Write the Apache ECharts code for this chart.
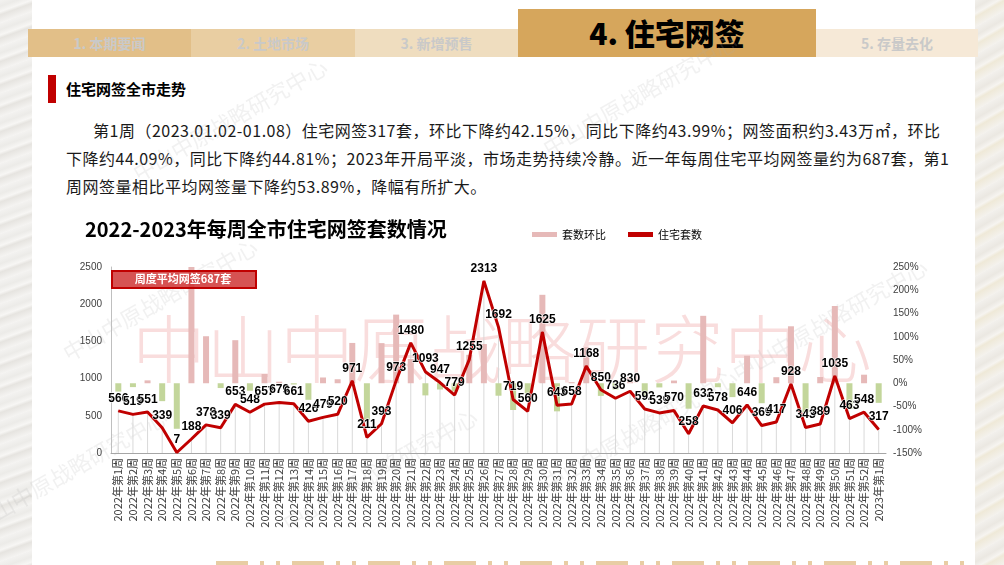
<!DOCTYPE html>
<html><head><meta charset="utf-8">
<script src="https://cdn.jsdelivr.net/npm/echarts@6/dist/echarts.min.js"></script>
<style>
html,body{margin:0;padding:0;width:1004px;height:565px;overflow:hidden;background:#fff;font-family:"Noto Sans CJK SC","Noto Sans",sans-serif;}
#page{position:relative;width:1004px;height:565px;}
.edgeL{position:absolute;left:0;top:0;width:32px;height:565px;background:repeating-linear-gradient(160deg,#f3f2f0 0px,#ecebe8 6px,#f7f6f4 11px,#e6e4e0 14px,#f5f4f2 22px);}
.edgeR{position:absolute;left:975px;top:0;width:29px;height:565px;background:repeating-linear-gradient(150deg,#f2f0ec 0px,#ebe8e2 7px,#f6f4f0 12px,#efe9d8 15px,#f4f2ee 24px);}
.tab{position:absolute;top:29px;height:28px;line-height:28px;text-align:center;font-weight:bold;font-size:14px;color:#c9c9c9;font-family:"Noto Sans CJK SC",serif;}
.active{position:absolute;left:518px;top:9px;width:298px;height:48px;line-height:46px;background:#D6A65C;text-align:center;font-weight:900;font-size:30px;color:#000;font-family:"Noto Sans CJK SC",serif;}
.redbar{position:absolute;left:48px;top:75px;width:8px;height:28px;background:#C00000;}
.sub{position:absolute;left:66px;top:78px;font-size:15px;font-weight:bold;color:#000;line-height:22px;}
.para{position:absolute;left:66px;top:116px;font-size:16px;line-height:28px;color:#1a1a1a;white-space:nowrap;letter-spacing:0.5px;}
.deco{position:absolute;top:561px;height:4px;background:#E8CDA4;}
#chart{position:absolute;left:0;top:0;width:1004px;height:565px;}
</style></head>
<body><div id="page">
<div class="edgeL"></div><div class="edgeR"></div>
<div class="tab" style="left:28px;width:163px;background:#E2BF88;">1. 本期要闻</div>
<div class="tab" style="left:191px;width:164px;background:#E9CEA2;">2. 土地市场</div>
<div class="tab" style="left:355px;width:163px;background:#EFDDBF;">3. 新增预售</div>
<div class="active">4. 住宅网签</div>
<div class="tab" style="left:816px;width:162px;background:#F6E9D7;">5. 存量去化</div>
<div class="redbar"></div>
<div class="sub">住宅网签全市走势</div>
<div class="para"><span style="padding-left:27px">第1周（2023.01.02-01.08）住宅网签317套，环比下降约42.15%，同比下降约43.99%；网签面积约3.43万㎡，环比</span><br>下降约44.09%，同比下降约44.81%；2023年开局平淡，市场走势持续冷静。近一年每周住宅平均网签量约为687套，第1<br>周网签量相比平均网签量下降约53.89%，降幅有所扩大。</div>
<div id="decoWrap"></div>
<div id="chart"></div>
</div>
<script>
// ---- data ----
const categories = ["2022年第1周","2022年第2周","2022年第3周","2022年第4周","2022年第5周","2022年第6周","2022年第7周","2022年第8周","2022年第9周","2022年第10周","2022年第11周","2022年第12周","2022年第13周","2022年第14周","2022年第15周","2022年第16周","2022年第17周","2022年第18周","2022年第19周","2022年第20周","2022年第21周","2022年第22周","2022年第23周","2022年第24周","2022年第25周","2022年第26周","2022年第27周","2022年第28周","2022年第29周","2022年第30周","2022年第31周","2022年第32周","2022年第33周","2022年第34周","2022年第35周","2022年第36周","2022年第37周","2022年第38周","2022年第39周","2022年第40周","2022年第41周","2022年第42周","2022年第43周","2022年第44周","2022年第45周","2022年第46周","2022年第47周","2022年第48周","2022年第49周","2022年第50周","2022年第51周","2022年第52周","2023年第1周"];
const units = [566,519,551,339,7,188,378,339,653,548,657,679,661,426,479,520,971,211,393,973,1480,1093,947,779,1255,2313,1692,719,560,1625,643,658,1168,850,736,830,592,539,570,258,632,578,406,646,369,417,928,343,389,1035,463,548,317];
const ratios = [-18,-8.3,6.2,-38.5,-97.9,2585.7,101.1,-10.3,92.6,-16.1,19.9,3.3,-2.7,-35.6,12.4,8.6,86.7,-78.3,86.3,147.6,52.1,-26.1,-13.4,-17.7,61.1,84.3,-26.8,-57.5,-22.1,190.2,-60.4,2.3,77.5,-27.2,-13.4,12.8,-28.7,-9.0,5.8,-54.7,145.0,-8.5,-29.8,59.1,-42.9,13.0,122.5,-63.0,13.4,166.1,-55.3,18.4,-42.2];
const leftTicks = {min:0,max:2500,interval:500};
const rightTicks = {min:-150,max:250,interval:50};
const avgText = "周度平均网签687套";
const titleText = "2022-2023年每周全市住宅网签套数情况";
const watermark = "中山中原战略研究中心";

// bottom decoration
(function(){
  const w = document.getElementById('decoWrap');
  let html='';
  for(let x=216;x<966;x+=76){
    html+='<div class="deco" style="left:'+x+'px;width:32px"></div>';
    if(x+44<966) html+='<div class="deco" style="left:'+(x+44)+'px;width:4px"></div>';
    if(x+60<966) html+='<div class="deco" style="left:'+(x+60)+'px;width:4px"></div>';
  }
  w.innerHTML=html;
})();

const chart = echarts.init(document.getElementById('chart'), null, {renderer:'canvas'});
const wmGrey = [];
[[160,300],[380,470],[640,95],[830,320],[230,120],[640,430],[70,470]].forEach(p=>{
  wmGrey.push({type:'text',x:p[0],y:p[1],rotation:Math.PI/6,silent:true,z:0,
    style:{text:watermark,fill:'rgba(170,170,170,0.17)',font:'22px "Noto Sans CJK SC"',textAlign:'center',textVerticalAlign:'middle'}});
});
const option = {
  backgroundColor:'transparent',
  animation:false,
  title:{text:titleText,left:80,top:214,textStyle:{fontSize:20,fontWeight:'bold',color:'#000',fontFamily:'"Noto Sans CJK SC"'}},
  legend:{left:527,top:224,itemWidth:25,itemHeight:5,itemGap:22,
    textStyle:{fontSize:11,color:'#000',fontFamily:'"Noto Sans CJK SC"'},
    data:[{name:'套数环比',icon:'rect',itemStyle:{color:'#E6B9B8'}},{name:'住宅套数',icon:'rect',itemStyle:{color:'#C00000'}}]},
  grid:{left:111,right:118,top:267,bottom:112,containLabel:false},
  xAxis:[{type:'category',data:categories,boundaryGap:true,
      axisLine:{lineStyle:{color:'#a6a6a6',width:1}},axisTick:{show:false},
      axisLabel:{interval:0,rotate:90,fontSize:11,color:'#404040',margin:5,fontFamily:'"Noto Sans CJK SC"'}},
    {type:'category',data:categories,show:false,boundaryGap:true}],
  yAxis:[{type:'value',min:leftTicks.min,max:leftTicks.max,interval:leftTicks.interval,
      axisLine:{show:true,lineStyle:{color:'#bfbfbf'}},axisTick:{show:false},splitLine:{show:false},
      axisLabel:{formatter:v=>String(v),fontSize:10,color:'#404040',margin:9,fontFamily:'Arial, "Liberation Sans"'}},
    {type:'value',min:rightTicks.min,max:rightTicks.max,interval:rightTicks.interval,
      axisLine:{show:false},axisTick:{show:false},splitLine:{show:false},
      axisLabel:{formatter:'{value}%',fontSize:10,color:'#404040',margin:7,fontFamily:'Arial, "Liberation Sans"'}}],
  graphic:[
    {type:'text',left:'center',top:312,silent:true,z:0,
      style:{text:watermark,fill:'rgba(230,120,120,0.25)',font:'300 74px "Noto Sans CJK SC"'}},
    ...wmGrey,
    {type:'rect',left:111,top:270,z:100,shape:{width:144,height:17},
      style:{fill:'rgba(205,45,45,0.82)',stroke:'#C00000',lineWidth:2}},
    {type:'text',x:183,y:278.5,z:101,
      style:{text:avgText,fill:'#fff',font:'bold 11px "Noto Sans CJK SC"',textAlign:'center',textVerticalAlign:'middle'}}
  ],
  series:[
    {name:'drop',type:'bar',xAxisIndex:1,yAxisIndex:0,data:units,barWidth:1,silent:true,
      itemStyle:{color:'#d9d9d9'},z:1,legendHoverLink:false},
    {name:'套数环比',type:'bar',xAxisIndex:0,yAxisIndex:1,data:ratios,barWidth:6,z:2,clip:true,
      itemStyle:{color:p=>p.value>=0?'#E6B9B8':'#C3D69B'}},
    {name:'住宅套数',type:'line',xAxisIndex:0,yAxisIndex:0,data:units,symbol:'circle',symbolSize:1,showSymbol:true,z:5,
      lineStyle:{color:'#C00000',width:3},itemStyle:{color:'#C00000'},
      labelLayout:{hideOverlap:false},
      label:{show:true,position:'top',distance:6,fontSize:12,fontWeight:'bold',color:'#000',
        fontFamily:'Arial, "Liberation Sans"',textBorderColor:'#fff',textBorderWidth:1}}
  ]
};
chart.setOption(option);
</script>
</body></html>
